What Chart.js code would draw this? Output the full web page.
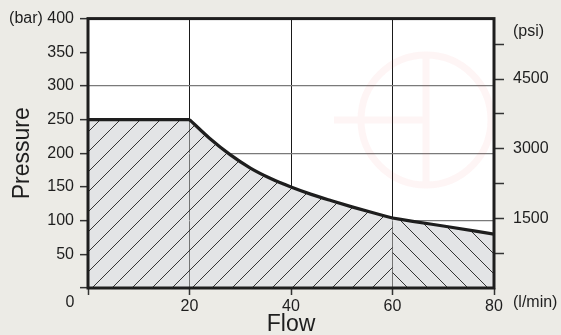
<!DOCTYPE html>
<html>
<head>
<meta charset="utf-8">
<script src="https://cdn.jsdelivr.net/npm/chart.js@4"></script>
<style>
  html, body { margin: 0; padding: 0; background: #ecebe6; }
  canvas { display: block; }
</style>
</head>
<body>
<canvas id="pqChart" width="561" height="335"></canvas>
<script>
// pressure limit vs flow (bar, l/min)
const flowFlat = [0, 20];
const pressureFlat = [250, 250];
const flowCurve = [20, 24, 28, 32, 36, 40, 44, 48, 52, 56, 60];
const pressureCurve = [250, 222, 198, 178, 162.5, 150, 139, 129.5, 120.5, 112, 104];
const flowTail = [60, 64, 70, 80];
const pressureTail = [104, 99, 92, 80];

// right hand psi scale
const psiTicks = [750, 1500, 2250, 3000, 3750, 4500, 5250];
const psiLabeled = [1500, 3000, 4500];
const BAR_TO_PSI = 14.5038;

const FONT = "'Liberation Sans', Arial, sans-serif";
const INK = '#1e1e1e';

const canvas = document.getElementById('pqChart');
const ctx = canvas.getContext('2d');

// diagonal hatch tile, dir 1 = "/", dir -1 = "\"
function makeHatch(dir) {
    const c = document.createElement('canvas');
    c.width = 20; c.height = 20;
    const g = c.getContext('2d');
    g.fillStyle = '#e3e4e6';
    g.fillRect(0, 0, 20, 20);
    g.strokeStyle = '#333';
    g.lineWidth = 1;
    g.beginPath();
    if (dir > 0) {
        g.moveTo(-1, 21); g.lineTo(21, -1);
    } else {
        g.moveTo(-1, -1); g.lineTo(21, 21);
    }
    g.stroke();
    return ctx.createPattern(c, 'repeat');
}

const toPts = (xs, ys) => xs.map((x, i) => ({x: x, y: ys[i]}));

const bgPlugin = {
    id: 'bg',
    beforeDraw(chart) {
        const {ctx, chartArea: a} = chart;
        ctx.save();
        ctx.fillStyle = '#ecebe6';
        ctx.fillRect(0, 0, chart.width, chart.height);
        ctx.fillStyle = '#ffffff';
        ctx.fillRect(a.left, a.top, a.right - a.left, a.bottom - a.top);
        ctx.restore();
    },
    afterDatasetsDraw(chart) {
        // faint logo mark in the background
        const {ctx} = chart;
        ctx.save();
        ctx.strokeStyle = 'rgba(235, 80, 80, 0.055)';
        ctx.lineWidth = 7;
        ctx.beginPath();
        ctx.arc(426, 120, 65, 0, Math.PI * 2);
        ctx.moveTo(426, 55); ctx.lineTo(426, 185);
        ctx.moveTo(334, 120); ctx.lineTo(426, 120);
        ctx.stroke();
        ctx.restore();
    },
    afterDraw(chart) {
        const {ctx, chartArea: a} = chart;
        ctx.save();
        ctx.strokeStyle = INK;
        ctx.lineWidth = 3;
        ctx.strokeRect(a.left, a.top, a.right - a.left, a.bottom - a.top);
        ctx.fillStyle = INK;
        ctx.font = '16px ' + FONT;
        ctx.textBaseline = 'middle';
        ctx.textAlign = 'center';
        ctx.fillText('0', 70, 303);
        ctx.textAlign = 'left';
        ctx.fillText('(l/min)', 513, 303);
        ctx.fillText('(psi)', 513, 32);
        ctx.restore();
    }
};

const areaStyle = {
    borderColor: INK,
    borderWidth: 3.2,
    pointRadius: 0,
    fill: 'origin',
    borderJoinStyle: 'round'
};

const tickFont = { family: FONT, size: 16 };

const chart = new Chart(ctx, {
    type: 'line',
    data: {
        datasets: [
            Object.assign({label: 'flat', data: toPts(flowFlat, pressureFlat),
                backgroundColor: makeHatch(1), tension: 0}, areaStyle),
            Object.assign({label: 'curve', data: toPts(flowCurve, pressureCurve),
                backgroundColor: makeHatch(1), cubicInterpolationMode: 'monotone'}, areaStyle),
            Object.assign({label: 'tail', data: toPts(flowTail, pressureTail),
                backgroundColor: makeHatch(-1), cubicInterpolationMode: 'monotone'}, areaStyle)
        ]
    },
    options: {
        responsive: false,
        animation: false,
        devicePixelRatio: 1,
        layout: { padding: { top: 17 } },
        plugins: {
            legend: { display: false },
            tooltip: { enabled: false },
            filler: { drawTime: 'beforeDatasetsDraw' }
        },
        scales: {
            x: {
                type: 'linear',
                min: 0, max: 80,
                z: 1,
                afterFit: s => { s.height = 47; },
                border: { display: false },
                grid: {
                    color: c => [20, 40, 60].includes(c.tick.value) ? '#1a1a1a' : 'transparent',
                    lineWidth: 1,
                    tickColor: '#333',
                    tickLength: 7,
                    tickWidth: 1.5
                },
                ticks: {
                    stepSize: 20,
                    padding: 2,
                    color: INK,
                    font: tickFont,
                    callback: v => v === 0 ? '' : String(v)
                },
                title: {
                    display: true,
                    text: 'Flow',
                    color: INK,
                    font: { family: FONT, size: 23, lineHeight: 0.9 },
                    padding: { top: 0, bottom: 0 }
                }
            },
            y: {
                type: 'linear',
                position: 'left',
                min: 0, max: 400,
                z: 1,
                afterFit: s => { s.width = 88; },
                border: { display: false },
                grid: {
                    color: c => [100, 200, 300].includes(c.tick.value) ? '#7a7a7a' : 'transparent',
                    lineWidth: 1.3,
                    tickColor: '#333',
                    tickLength: 8,
                    tickWidth: 1.5
                },
                ticks: {
                    stepSize: 50,
                    padding: 6,
                    color: INK,
                    font: tickFont,
                    callback: v => v === 0 ? '' : (v === 400 ? '(bar) 400' : String(v))
                },
                title: {
                    display: true,
                    text: 'Pressure',
                    color: INK,
                    font: { family: FONT, size: 23, lineHeight: 0.9 },
                    padding: { top: 12.5, bottom: 0 }
                }
            },
            y2: {
                type: 'linear',
                position: 'right',
                min: 0, max: 400 * BAR_TO_PSI,
                afterFit: s => { s.width = 67; },
                afterBuildTicks: s => { s.ticks = psiTicks.map(v => ({value: v})); },
                border: { display: false },
                grid: {
                    drawOnChartArea: false,
                    tickColor: '#333',
                    tickLength: 10,
                    tickWidth: 1.5
                },
                ticks: {
                    autoSkip: false,
                    padding: 9,
                    color: INK,
                    font: tickFont,
                    callback: v => psiLabeled.includes(v) ? String(v) : ''
                }
            }
        }
    },
    plugins: [bgPlugin]
});
</script>
</body>
</html>
